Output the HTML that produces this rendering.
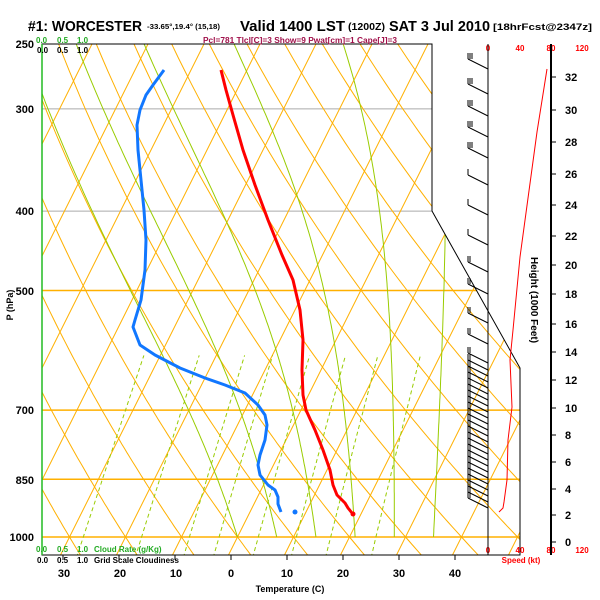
<!DOCTYPE html>
<html><head><meta charset="utf-8"><style>
body{margin:0;background:#fff;width:600px;height:600px;overflow:hidden}
svg{display:block;font-family:"Liberation Sans",sans-serif}
</style></head><body>
<svg id="s" width="600" height="600" viewBox="0 0 600 600" xmlns="http://www.w3.org/2000/svg">
<defs><clipPath id="c"><polygon points="42,44 432,44 432,211 520,368 520,555 42,555"/></clipPath></defs>
<g id="bg" clip-path="url(#c)"></g>
<polygon points="42,44 432,44 432,211 520,368 520,555 42,555" fill="none" stroke="#000" stroke-width="1"/>
<line x1="42" y1="44" x2="42" y2="555" stroke="#22bb22" stroke-width="1.5"/>
<g font-weight="bold">
<text x="28" y="31" font-size="15" textLength="114" lengthAdjust="spacingAndGlyphs">#1: WORCESTER</text>
<text x="147" y="29" font-size="7" textLength="73" lengthAdjust="spacingAndGlyphs">-33.65°,19.4° (15,18)</text>
<text x="240" y="31" font-size="15" textLength="105" lengthAdjust="spacingAndGlyphs">Valid 1400 LST</text>
<text x="348" y="30" font-size="10" textLength="37" lengthAdjust="spacingAndGlyphs">(1200Z)</text>
<text x="389" y="31" font-size="15" textLength="101" lengthAdjust="spacingAndGlyphs">SAT 3 Jul 2010</text>
<text x="493" y="30" font-size="9" textLength="99" lengthAdjust="spacingAndGlyphs">[18hrFcst@2347z]</text>
<text x="203" y="43" font-size="8" fill="#a0104a" textLength="194" lengthAdjust="spacingAndGlyphs">Pcl=781 Tlcl[C]=3 Show=9 Pwat[cm]=1 Cape[J]=3</text>
<g font-size="8" fill="#22aa22"><text x="36" y="43">0.0</text><text x="57" y="43">0.5</text><text x="77" y="43">1.0</text>
<text x="36" y="552">0.0</text><text x="57" y="552">0.5</text><text x="77" y="552">1.0</text><text x="94" y="552">Cloud Rate (g/Kg)</text></g>
<g font-size="8"><text x="37" y="53">0.0</text><text x="57" y="53">0.5</text><text x="77" y="53">1.0</text>
<text x="37" y="563">0.0</text><text x="57" y="563">0.5</text><text x="77" y="563">1.0</text><text x="94" y="563">Grid Scale Cloudiness</text></g>
<g font-size="11" text-anchor="end"><text x="34" y="48">250</text><text x="34" y="113">300</text><text x="34" y="215">400</text><text x="34" y="295">500</text><text x="34" y="414">700</text><text x="34" y="484">850</text><text x="34" y="541">1000</text></g>
<g font-size="11" text-anchor="middle"><text x="64" y="577">30</text><text x="120" y="577">20</text><text x="176" y="577">10</text><text x="231" y="577">0</text><text x="287" y="577">10</text><text x="343" y="577">20</text><text x="399" y="577">30</text><text x="455" y="577">40</text></g>
<text x="290" y="592" font-size="9" text-anchor="middle">Temperature (C)</text>
<text transform="translate(13,305) rotate(-90)" font-size="9" text-anchor="middle">P (hPa)</text>
<g font-size="8" fill="#f00" text-anchor="middle"><text x="488" y="51">0</text><text x="520" y="51">40</text><text x="551" y="51">80</text><text x="582" y="51">120</text>
<text x="488" y="553">0</text><text x="520" y="553">40</text><text x="551" y="553">80</text><text x="582" y="553">120</text><text x="521" y="563">Speed (kt)</text></g>
<text transform="translate(531,300) rotate(90)" font-size="10" text-anchor="middle">Height (1000 Feet)</text>
<g id="hl" font-size="11"></g>
</g>
<line x1="488" y1="44" x2="488" y2="555" stroke="#000"/>
<line x1="551" y1="44" x2="551" y2="555" stroke="#000" stroke-width="2"/>
<g id="fg"></g>
</svg>
<script>
var NS="http://www.w3.org/2000/svg";
function el(par,t,a){var e=document.createElementNS(NS,t);for(var k in a)e.setAttribute(k,a[k]);par.appendChild(e);return e;}
function Y(p){return 537-355.6*Math.log(1000/p);}
function X(T,p){return 231+5.6*T+0.5*(550-Y(p));}
var bg=document.getElementById('bg'),fg=document.getElementById('fg'),hl=document.getElementById('hl');
var OR="#ffb000";
[[300,"#aaa"],[400,"#aaa"],[500,OR],[700,OR],[850,OR],[1000,OR]].forEach(function(a){el(bg,'line',{x1:42,x2:520,y1:Y(a[0]),y2:Y(a[0]),stroke:a[1],'stroke-width':a[1]==OR?1.5:1});});
for(var T=-120;T<=50;T+=10){el(bg,'line',{x1:X(T,1060),y1:Y(1060),x2:X(T,240),y2:Y(240),stroke:OR,'stroke-width':1});}
function path(pts,a){var d="M"+pts.map(function(q){return q[0].toFixed(1)+","+q[1].toFixed(1)}).join("L");a.d=d;a.fill="none";return a;}
for(var th=-40;th<=200;th+=10){var pts=[];for(var p=1060;p>=240;p-=10){var Tk=(th+273.15)*Math.pow(p/1000,0.286);pts.push([X(Tk-273.15,p),Y(p)]);}el(bg,'path',path(pts,{stroke:OR,'stroke-width':1}));}
function es(Tc){return 6.112*Math.exp(17.67*Tc/(Tc+243.5));}
for(var t0=0;t0<=35;t0+=7){var Tk=t0+273.15,up=[];
 for(var pp=1000;pp>=240;pp-=5){var Tc=Tk-273.15;up.push([X(Tc,pp),Y(pp)]);var w=0.622*es(Tc)/(pp-es(Tc));var dT=(287*Tk+2.5e6*w)/(pp*(1004+2.5e6*2.5e6*w*0.622/(287*Tk*Tk)));Tk-=dT*5;}
 el(bg,'path',path(up,{stroke:"#99cc00",'stroke-width':1}));}
[0.4,1,2,3,5,8,12,20].forEach(function(wg){var w=wg/1000,pts=[];for(var p=1060;p>=600;p-=10){var e=w*p/(0.622+w),l=Math.log(e/6.112);var Tc=243.5*l/(17.67-l);pts.push([X(Tc,p),Y(p)]);}el(bg,'path',path(pts,{stroke:"#99cc00",'stroke-width':1,'stroke-dasharray':'4,3'}));});
var tp=[[221,70],[226,90],[233,115],[243,150],[255,185],[268,220],[282,255],[293,280],[300,310],[303,340],[302,370],[303,395],[306,410],[315,430],[323,450],[330,470],[333,485],[337,495],[345,503],[348,508],[352,513]];
el(fg,'path',path(tp,{stroke:"#f00",'stroke-width':3,'stroke-linejoin':'round'}));
el(fg,'circle',{cx:353,cy:514,r:2.5,fill:"#f00"});
var dp=[[164,70],[153,85],[146,95],[140,110],[137,125],[138,150],[141,180],[144,210],[146,240],[145,270],[141,300],[135,320],[133,327],[140,345],[155,355],[180,368],[205,378],[225,385],[245,393],[258,405],[265,415],[267,425],[265,440],[260,455],[258,465],[260,475],[268,485],[275,490],[278,497],[278,504],[281,512]];
el(fg,'path',path(dp,{stroke:"#1177ff",'stroke-width':3,'stroke-linejoin':'round'}));
el(fg,'circle',{cx:295,cy:512,r:2.5,fill:"#1177ff"});
var hy=[[32,77],[30,110],[28,142],[26,174],[24,205],[22,236],[20,265],[18,294],[16,324],[14,352],[12,380],[10,408],[8,435],[6,462],[4,489],[2,515],[0,542]];
hy.forEach(function(h){el(fg,'line',{x1:551,x2:556,y1:h[1],y2:h[1],stroke:"#000"});var t=el(hl,'text',{x:565,y:h[1]+4});t.textContent=h[0];});
var ws=[[547,69],[537,132],[520,257],[513,330],[510,360],[512,407],[508,440],[507,480],[504,502],[503,508],[499,512]];
el(fg,'path',path(ws,{stroke:"#f00",'stroke-width':1}));
var by=[69,94,116,137,158,185,215,245,272,294,323,344,363];
for(var y=370;y<=512;y+=6)by.push(y);
by.forEach(function(y,i){var yt=y-10;el(fg,'line',{x1:488,y1:y,x2:468,y2:yt,stroke:"#000"});
 var n=i<5?3:(i<8?1:2);for(var k=0;k<n;k++){el(fg,'line',{x1:468+k*2,y1:yt,x2:468+k*2,y2:yt-6,stroke:"#000"});}});
for(var t=-30;t<=40;t+=10){var x=231+5.6*t;el(fg,'line',{x1:x,x2:x,y1:555,y2:560,stroke:"#000"});}
</script>
</body></html>
